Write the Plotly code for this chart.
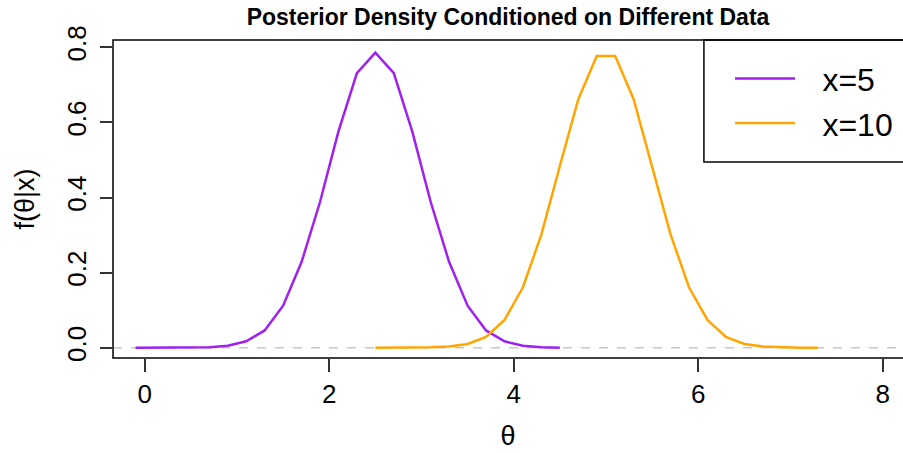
import plotly.graph_objects as go

# theta grids (step 0.2) and posterior densities
theta_x5 = [-0.1, 0.1, 0.3, 0.5, 0.7, 0.9, 1.1, 1.3, 1.5, 1.7, 1.9, 2.1,
            2.3, 2.5, 2.7, 2.9, 3.1, 3.3, 3.5, 3.7, 3.9, 4.1, 4.3, 4.5]
dens_x5 = [0.000, 0.000, 0.000, 0.000, 0.001, 0.005, 0.017, 0.046, 0.112,
           0.228, 0.388, 0.576, 0.731, 0.786, 0.731, 0.576, 0.388, 0.228,
           0.112, 0.046, 0.017, 0.005, 0.001, 0.000]

theta_x10 = [2.5, 2.7, 2.9, 3.1, 3.3, 3.5, 3.7, 3.9, 4.1, 4.3, 4.5, 4.7, 4.9,
             5.1, 5.3, 5.5, 5.7, 5.9, 6.1, 6.3, 6.5, 6.7, 6.9, 7.1, 7.3]
dens_x10 = [0.000, 0.000, 0.000, 0.001, 0.003, 0.010, 0.029, 0.074, 0.161,
            0.302, 0.484, 0.662, 0.777, 0.777, 0.662, 0.484, 0.302, 0.161,
            0.074, 0.029, 0.010, 0.003, 0.001, 0.000, 0.000]

series_names = ["x=5", "x=10"]
x_ticks = [0, 2, 4, 6, 8]
y_ticks = [0.0, 0.2, 0.4, 0.6, 0.8]
y_tick_text = ["0.0", "0.2", "0.4", "0.6", "0.8"]

FONT = "Liberation Sans, Arial, sans-serif"
PAD = "\u2002\u2009"  # gap between legend line and label, as in the reference

fig = go.Figure()
fig.add_trace(go.Scatter(x=theta_x5, y=dens_x5, mode="lines", name=PAD + series_names[0],
                         line=dict(color="#A020F0", width=2.5)))
fig.add_trace(go.Scatter(x=theta_x10, y=dens_x10, mode="lines", name=PAD + series_names[1],
                         line=dict(color="#FFA500", width=2.5)))

fig.add_hline(y=0, line=dict(color="#C8C8C8", width=1.5, dash="dash"), layer="below")

# plot box (right side runs off the canvas, as in the reference)
fig.add_shape(type="rect", xref="paper", yref="paper", x0=0, x1=1.05, y0=0, y1=1,
              line=dict(color="black", width=1.5), layer="above")
# legend box
fig.add_shape(type="rect", xref="paper", yref="paper", x0=0.748, x1=1.05, y0=0.616, y1=1,
              line=dict(color="black", width=1.5), layer="above")

fig.update_layout(
    width=903, height=453,
    margin=dict(l=113, r=0, t=40, b=95),
    paper_bgcolor="white", plot_bgcolor="white",
    font=dict(family=FONT, color="black"),
    title=dict(text="<b>Posterior Density Conditioned on Different Data</b>",
               x=0.5, xref="paper", xanchor="center", y=0.962, yanchor="middle",
               font=dict(size=23, family=FONT, color="black")),
    showlegend=True,
    legend=dict(x=0.781, xanchor="left", y=0.965, yanchor="top", itemwidth=60,
                font=dict(size=32, family=FONT, color="black"),
                bgcolor="rgba(0,0,0,0)", borderwidth=0, tracegroupgap=0),
    xaxis=dict(range=[-0.344, 8.22], tickvals=x_ticks, ticks="outside", ticklen=13,
               tickwidth=1.5, tickcolor="#333", showgrid=False, zeroline=False,
               showline=False, tickfont=dict(size=26, family=FONT),
               title=dict(text="θ", font=dict(size=27, family=FONT), standoff=17)),
    yaxis=dict(range=[-0.0274, 0.8195], tickvals=y_ticks, ticktext=y_tick_text,
               ticks="outside", ticklen=12, tickwidth=1.5, tickcolor="#333",
               tickangle=-90, showgrid=False, zeroline=False, showline=False,
               tickfont=dict(size=26, family=FONT), ticklabelstandoff=4,
               title=dict(text="f(θ|x)", font=dict(size=27, family=FONT), standoff=19)),
)

fig.write_html("out.html")
